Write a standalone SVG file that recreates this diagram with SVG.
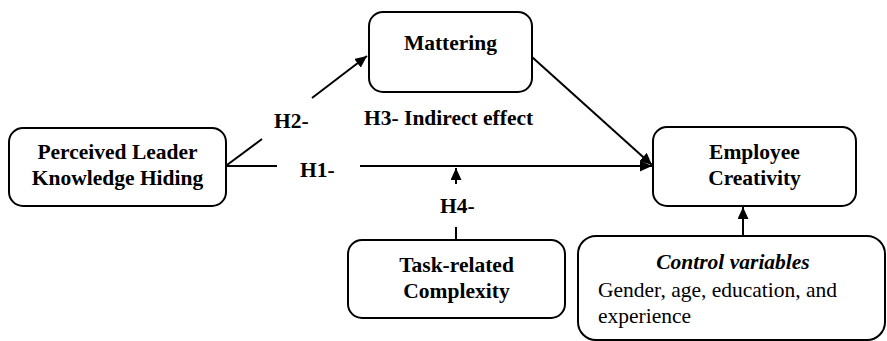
<svg xmlns="http://www.w3.org/2000/svg" width="887" height="341" viewBox="0 0 887 341">
<style>
.box{fill:#fff;stroke:#000;stroke-width:2}
.t{font-family:'Liberation Serif','Times New Roman','DejaVu Serif',serif;font-size:21.5px;fill:#000}
.b{font-weight:bold}
.c{text-anchor:middle}
.ln{stroke:#000;stroke-width:2;fill:none}
</style>
<defs>
<marker id="ah" markerUnits="userSpaceOnUse" markerWidth="12" markerHeight="11" refX="12" refY="5.5" orient="auto">
<path d="M0,0 L12,5.5 L0,11 z" fill="#000"/>
</marker>
</defs>
<rect width="887" height="341" fill="#fff"/>
<g id="connectors">
<line class="ln" x1="227" y1="165" x2="262" y2="139"/>
<line class="ln" x1="312" y1="98" x2="367" y2="56" marker-end="url(#ah)"/>
<line class="ln" x1="226" y1="166" x2="277" y2="166"/>
<line class="ln" x1="360" y1="166" x2="652" y2="166" marker-end="url(#ah)"/>
<line class="ln" x1="532" y1="57" x2="652" y2="165" marker-end="url(#ah)"/>
<line class="ln" x1="456" y1="184" x2="456" y2="168" marker-end="url(#ah)"/>
<line class="ln" x1="456" y1="227" x2="456" y2="240"/>
<line class="ln" x1="743" y1="236" x2="743" y2="207" marker-end="url(#ah)"/>
<text class="t b" x="274" y="128" font-family="Liberation Serif">H2-</text>
<text class="t b" x="364" y="125">H3- Indirect effect</text>
<text class="t b" x="300" y="177">H1-</text>
<text class="t b" x="440" y="213">H4-</text>
</g>
<g id="perceived">
<rect class="box" x="9" y="128" width="217" height="78" rx="14"/>
<text class="t b c" x="117.5" y="159">Perceived Leader</text>
<text class="t b c" x="117.5" y="185">Knowledge Hiding</text>
</g>
<g id="mattering">
<rect class="box" x="369" y="12" width="163" height="80" rx="14"/>
<text class="t b c" x="450.5" y="50">Mattering</text>
</g>
<g id="creativity">
<rect class="box" x="653" y="127" width="203" height="79" rx="14"/>
<text class="t b c" x="754.5" y="159">Employee</text>
<text class="t b c" x="754.5" y="185">Creativity</text>
</g>
<g id="complexity">
<rect class="box" x="348" y="240" width="217" height="78" rx="14"/>
<text class="t b c" x="456.5" y="272">Task-related</text>
<text class="t b c" x="456.5" y="298">Complexity</text>
</g>
<g id="controls">
<rect class="box" x="578" y="236" width="307" height="104" rx="18"/>
<text class="t b c" x="733" y="269" font-style="italic">Control variables</text>
<text class="t" x="598" y="297">Gender, age, education, and</text>
<text class="t" x="598" y="323">experience</text>
</g>
</svg>
